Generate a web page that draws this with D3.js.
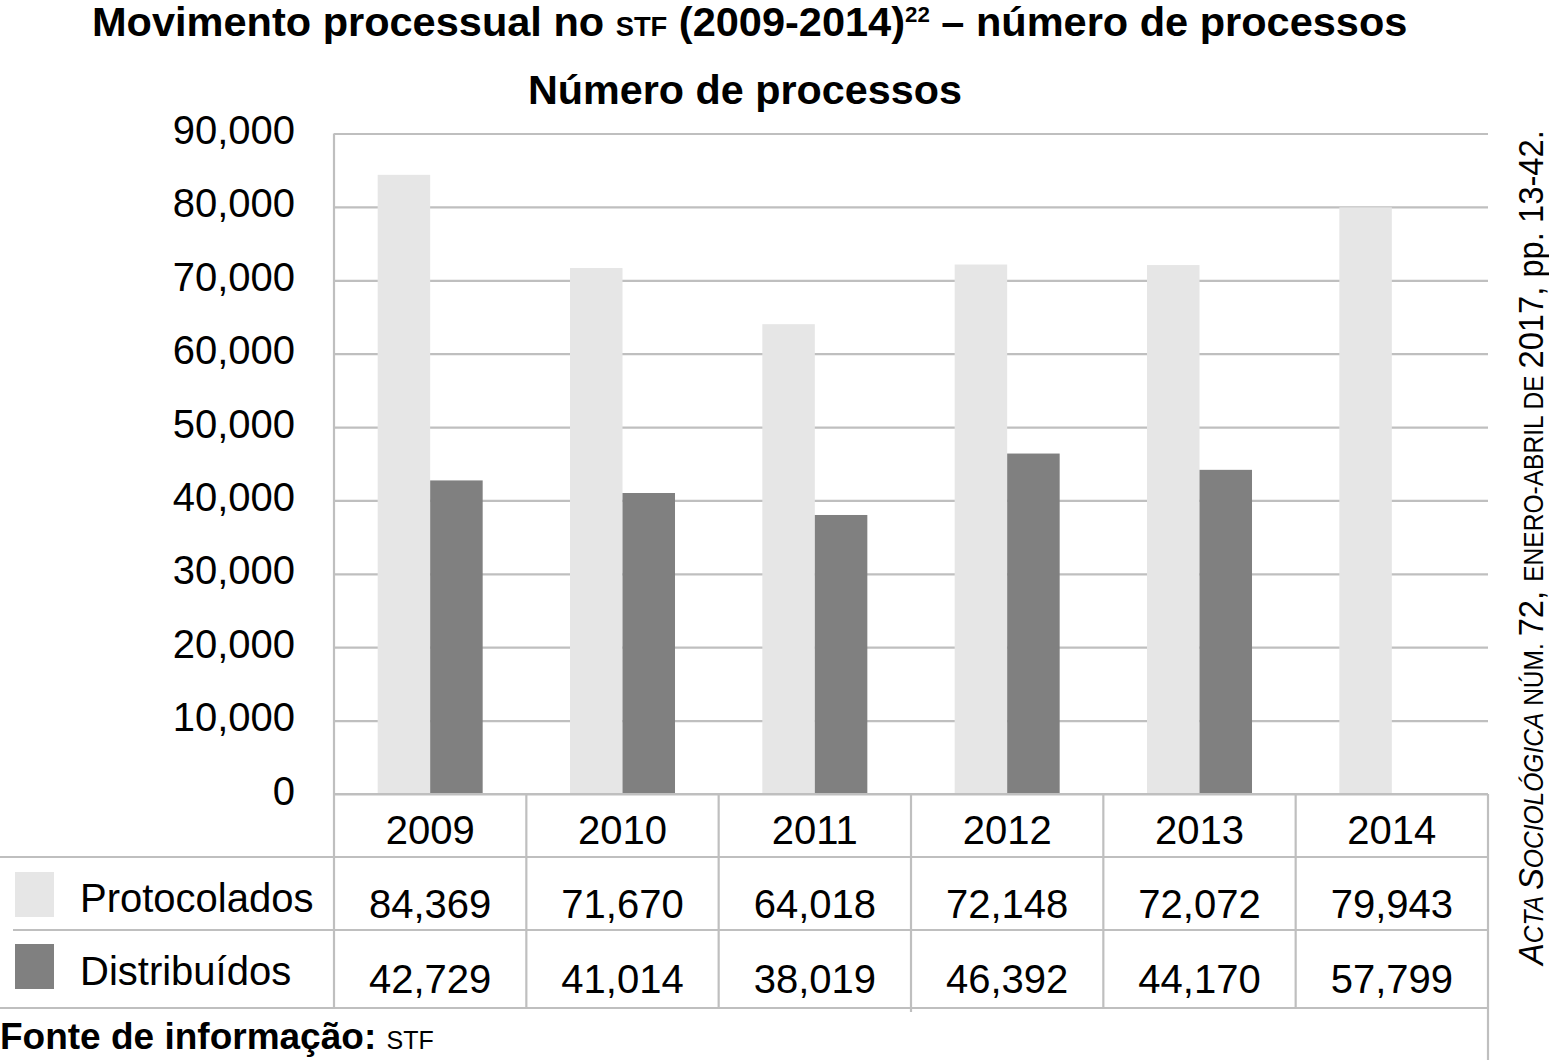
<!DOCTYPE html>
<html><head><meta charset="utf-8">
<script src="https://cdn.jsdelivr.net/npm/d3@7"></script>
<style>
body{margin:0;background:#fff}
svg{display:block}
text{font-family:"Liberation Sans",Arial,Helvetica,sans-serif;fill:#000}
</style>
</head><body>
<svg id="c" width="1549" height="1060"></svg>
<script>
// ---- data ----
const years = ["2009","2010","2011","2012","2013","2014"];
const protocolados = [84369,71670,64018,72148,72072,79943];
const distribuidos = [42729,41014,38019,46392,44170,57799];
// in the source picture the 2014 "Distribuídos" bar is not drawn
const distribuidosDrawn = [true,true,true,true,true,false];
const seriesNames = ["Protocolados","Distribuídos"];
const seriesColors = ["#e6e6e6","#808080"];
const yTicks = [0,10000,20000,30000,40000,50000,60000,70000,80000,90000];

const svg = d3.select("#c");
const gridColor = "#bfbfbf";

const plot = {left:334, right:1488, top:133.5, bottom:794};
const x0 = d3.scaleBand().domain(years).range([plot.left, plot.right]).padding(0);
const bw = x0.bandwidth();
const x1 = d3.scaleBand().domain(seriesNames).range([bw*0.227, bw*0.773]).padding(0);
const y = d3.scaleLinear().domain([0,90000]).range([plot.bottom, plot.top]);

// gridlines + y labels
const yAxis = d3.axisLeft(y).tickValues(yTicks).tickFormat(d3.format(","))
  .tickSizeInner(-(plot.right-plot.left)).tickSizeOuter(0).tickPadding(39);
const gy = svg.append("g").attr("transform",`translate(${plot.left},0)`).call(yAxis);
gy.select(".domain").remove();
gy.selectAll(".tick line").attr("stroke",gridColor).attr("stroke-width",2.2);
gy.selectAll(".tick text").attr("font-size",40).attr("dy","0.25em")
  .style("font-family",'"Liberation Sans",Arial,sans-serif');

// left axis line
svg.append("line").attr("x1",plot.left).attr("x2",plot.left)
  .attr("y1",plot.top).attr("y2",1008).attr("stroke",gridColor).attr("stroke-width",2.2);

// bars
const rows = years.map((yr,i)=>({year:yr, vals:[
  {s:seriesNames[0], v:protocolados[i], c:seriesColors[0], draw:true},
  {s:seriesNames[1], v:distribuidos[i], c:seriesColors[1], draw:distribuidosDrawn[i]}
]}));
svg.append("g").selectAll("g").data(rows).join("g")
  .attr("transform",d=>`translate(${x0(d.year)},0)`)
  .selectAll("rect").data(d=>d.vals.filter(v=>v.draw)).join("rect")
  .attr("x",d=>x1(d.s)).attr("width",x1.bandwidth())
  .attr("y",d=>y(d.v)).attr("height",d=>y(0)-y(d.v)).attr("fill",d=>d.c);

// redraw zero line on top of bars
svg.append("line").attr("x1",plot.left).attr("x2",plot.right)
  .attr("y1",y(0)).attr("y2",y(0)).attr("stroke",gridColor).attr("stroke-width",2.2);

// ---- data table ----
const rowY = {head:794, r1:857, r2:930, bottom:1008};
const hl = [[0,rowY.r1],[13,rowY.r2],[0,rowY.bottom]];
hl.forEach(([xs,yy])=>svg.append("line").attr("x1",xs).attr("x2",plot.right)
  .attr("y1",yy).attr("y2",yy).attr("stroke",gridColor).attr("stroke-width",2.2));
years.forEach((yr,i)=>{
  if(i===0) return;
  svg.append("line").attr("x1",x0(yr)).attr("x2",x0(yr)).attr("y1",rowY.head).attr("y2",rowY.bottom+(i===3?4:0))
    .attr("stroke",gridColor).attr("stroke-width",2.2);
});
svg.append("line").attr("x1",plot.right).attr("x2",plot.right).attr("y1",rowY.head).attr("y2",1060)
  .attr("stroke",gridColor).attr("stroke-width",2.2);

// header years
svg.append("g").selectAll("text").data(years).join("text")
  .attr("x",d=>x0(d)+bw/2).attr("y",844).attr("text-anchor","middle").attr("font-size",40).text(d=>d);
// values
const fmt = d3.format(",");
[[protocolados,918],[distribuidos,993]].forEach(([arr,by])=>{
  svg.append("g").selectAll("text").data(arr).join("text")
    .attr("x",(d,i)=>x0(years[i])+bw/2).attr("y",by).attr("text-anchor","middle")
    .attr("font-size",40).text(d=>fmt(d));
});
// legend cells
[[872,912],[944,985]].forEach(([sy,ty],i)=>{
  svg.append("rect").attr("x",15).attr("y",sy).attr("width",39).attr("height",45).attr("fill",seriesColors[i]);
  svg.append("text").attr("x",80).attr("y",ty).attr("font-size",40).text(seriesNames[i]);
});

// ---- titles ----
function fitX(sel, x0p, width){
  const n = sel.node(); const w = n.getComputedTextLength();
  const s = width / w;
  sel.attr("transform",`translate(${x0p},0) scale(${s},1)`).attr("x",0);
}
const t1 = svg.append("text").attr("y",36).attr("font-size",41).attr("font-weight","bold");
t1.append("tspan").text("Movimento processual no ");
t1.append("tspan").attr("font-size",27).text("STF");
t1.append("tspan").text(" (2009-2014)");
t1.append("tspan").attr("font-size",22).attr("dy",-14).text("22");
t1.append("tspan").attr("dy",14).text(" – número de processos");
fitX(t1, 92, 1316);

const t2 = svg.append("text").attr("y",104).attr("font-size",41).attr("font-weight","bold")
  .text("Número de processos");
fitX(t2, 528, 434);

// source
const src = svg.append("text").attr("x",0).attr("y",1049).attr("font-size",37).attr("font-weight","bold");
src.append("tspan").text("Fonte de informação: ");
src.append("tspan").attr("font-weight","normal").attr("font-size",25).text("STF");

// ---- vertical running head ----
const rv = svg.append("text").attr("font-size",36);
const parts = [
  ["A",36,true],["CTA ",27,true],["S",36,true],["OCIOLÓGICA",27,true],
  [" NÚM. ",27,false],["72, ",36,false],["ENERO-ABRIL DE ",27,false],["2017, pp. 13-42.",36,false]
];
parts.forEach(([t,fs,it])=>rv.append("tspan").attr("font-size",fs).attr("font-style",it?"italic":"normal").text(t));
const L = rv.node().getComputedTextLength();
rv.attr("transform",`translate(1543,965) rotate(-90) scale(${835/L},1)`);
</script>
</body></html>
